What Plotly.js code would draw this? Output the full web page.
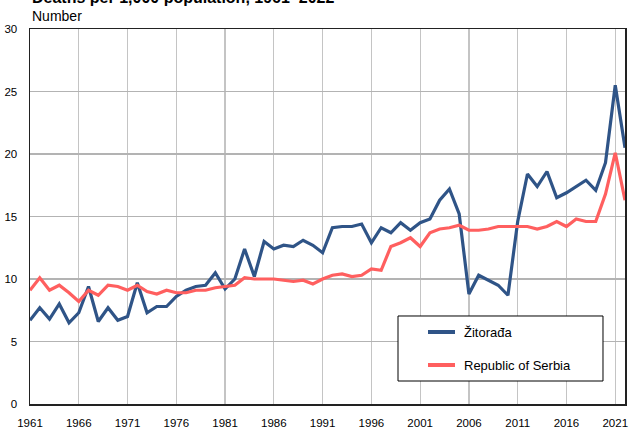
<!DOCTYPE html>
<html>
<head>
<meta charset="utf-8">
<script src="https://cdn.plot.ly/plotly-3.0.1.min.js"></script>
<style>html,body{margin:0;padding:0;background:#fff;}#chart{width:629px;height:428px;}</style>
</head>
<body>
<div id="chart"></div>
<script>
const years = [];
for (let y = 1961; y <= 2022; y++) years.push(y);

const zitoradja = [6.7, 7.7, 6.8, 8.0, 6.5, 7.3, 9.4, 6.6, 7.7, 6.7,
  7.0, 9.7, 7.3, 7.8, 7.8, 8.6, 9.1, 9.4, 9.5, 10.5,
  9.2, 10.0, 12.4, 10.2, 13.0, 12.4, 12.7, 12.6, 13.1, 12.7,
  12.1, 14.1, 14.2, 14.2, 14.4, 12.9, 14.1, 13.7, 14.5, 13.9,
  14.5, 14.8, 16.3, 17.2, 15.2, 8.8, 10.3, 9.9, 9.5, 8.7,
  14.6, 18.4, 17.4, 18.6, 16.5, 16.9, 17.4, 17.9, 17.1, 19.3,
  25.5, 20.5];

const serbia = [9.1, 10.1, 9.1, 9.5, 8.9, 8.2, 9.1, 8.7, 9.5, 9.4,
  9.1, 9.5, 9.0, 8.8, 9.1, 8.9, 8.9, 9.1, 9.1, 9.3,
  9.4, 9.5, 10.1, 10.0, 10.0, 10.0, 9.9, 9.8, 9.9, 9.6,
  10.0, 10.3, 10.4, 10.2, 10.3, 10.8, 10.7, 12.6, 12.9, 13.3,
  12.6, 13.7, 14.0, 14.1, 14.3, 13.9, 13.9, 14.0, 14.2, 14.2,
  14.2, 14.2, 14.0, 14.2, 14.6, 14.2, 14.8, 14.6, 14.6, 16.8,
  20.1, 16.3];

const xTicks = [1961, 1966, 1971, 1976, 1981, 1986, 1991, 1996, 2001, 2006, 2011, 2016, 2021];
const yTicks = [0, 5, 10, 15, 20, 25, 30];
const seriesNames = ['Žitorađa', 'Republic of Serbia'];
const seriesColors = ['#2f5487', '#ff5f5f'];
const titleText = 'Deaths per 1,000 population, 1961–2022';
const unitText = 'Number';

const FONT = 'Liberation Sans, Arial, sans-serif';

const traces = [
  {x: years, y: zitoradja, name: seriesNames[0], type: 'scatter', mode: 'lines',
   line: {color: seriesColors[0], width: 3.2}, showlegend: false},
  {x: years, y: serbia, name: seriesNames[1], type: 'scatter', mode: 'lines',
   line: {color: seriesColors[1], width: 3.2}, showlegend: false}
];

// legend box (paper coordinates)
const legBox = {x0: 0.6185, x1: 0.963, y0: 0.0613, y1: 0.2347};
const legRows = [0.192, 0.104];
const legLineX = [0.6689, 0.7143];
const legTextX = 0.726;

const shapes = [
  {type: 'rect', xref: 'paper', yref: 'paper', x0: legBox.x0, x1: legBox.x1, y0: legBox.y0, y1: legBox.y1,
   line: {color: '#000', width: 1}, fillcolor: '#fff', layer: 'above'}
];
const annotations = [
  {text: '<b>' + titleText + '</b>', xref: 'paper', yref: 'paper',
   x: 0, y: 1.0573, xanchor: 'left', yanchor: 'bottom', showarrow: false,
   font: {family: FONT, size: 16, color: '#000'}},
  {text: unitText, xref: 'paper', yref: 'paper',
   x: 0, y: 1.0347, xanchor: 'left', yanchor: 'middle', showarrow: false,
   font: {family: FONT, size: 14, color: '#000'}}
];
seriesNames.forEach((n, i) => {
  shapes.push({type: 'line', xref: 'paper', yref: 'paper', x0: legLineX[0], x1: legLineX[1],
    y0: legRows[i], y1: legRows[i], line: {color: seriesColors[i], width: 4}, layer: 'above'});
  annotations.push({text: n, xref: 'paper', yref: 'paper', x: legTextX, y: legRows[i],
    xanchor: 'left', yanchor: 'middle', showarrow: false,
    font: {family: FONT, size: 13, color: '#000'}});
});

const layout = {
  width: 629, height: 428,
  margin: {l: 30, r: 4, t: 29, b: 24, pad: 0},
  paper_bgcolor: '#ffffff', plot_bgcolor: '#ffffff',
  font: {family: FONT, size: 11, color: '#000'},
  showlegend: false,
  xaxis: {
    range: [1961, 2022], tickvals: xTicks, ticktext: xTicks.map(String),
    showgrid: true, gridcolor: '#c4c4c4', gridwidth: 1.2,
    showline: true, linecolor: '#222', linewidth: 1.5, mirror: true,
    ticks: '', zeroline: false, tickfont: {size: 11.5, color: '#000'},
    ticklabelstandoff: 8, fixedrange: true
  },
  yaxis: {
    range: [0, 30], tickvals: yTicks, ticktext: yTicks.map(String),
    showgrid: true, gridcolor: '#b3b3b3', gridwidth: 1.2,
    showline: true, linecolor: '#222', linewidth: 1.5, mirror: true,
    ticks: '', zeroline: false, tickfont: {size: 11.5, color: '#000'},
    ticklabelstandoff: 9, fixedrange: true
  },
  shapes: shapes,
  annotations: annotations
};

Plotly.newPlot('chart', traces, layout, {displayModeBar: false, staticPlot: true});
</script>
</body>
</html>
